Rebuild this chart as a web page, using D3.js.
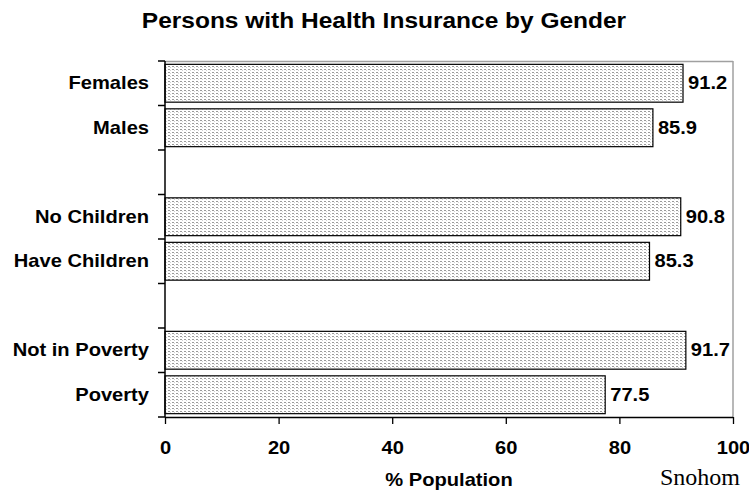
<!DOCTYPE html>
<html>
<head>
<meta charset="utf-8">
<script src="https://cdn.jsdelivr.net/npm/d3@7"></script>
<style>
  html, body { margin: 0; padding: 0; background: #fff; overflow: hidden; }
  svg { display: block; }
  text { font-family: "Liberation Sans", Arial, sans-serif; font-weight: bold; fill: #000; }
</style>
</head>
<body>
<script>
const title = "Persons with Health Insurance by Gender";
const xAxisTitle = "% Population";
const footnote = "Snohom";
const categories = ["Females", "Males", "No Children", "Have Children", "Not in Poverty", "Poverty"];
const values = [91.2, 85.9, 90.8, 85.3, 91.7, 77.5];
const xTicks = [0, 20, 40, 60, 80, 100];

const W = 749, H = 491;
const plot = { left: 165, right: 733, top: 61, bottom: 417 };
const SX = 1.15; // horizontal stretch of text seen in the reference

const svg = d3.select("body").append("svg").attr("width", W).attr("height", H);

// pattern fill
const defs = svg.append("defs");
const pat = defs.append("pattern").attr("id", "dots")
  .attr("patternUnits", "userSpaceOnUse").attr("width", 4).attr("height", 3);
pat.append("rect").attr("width", 4).attr("height", 3).attr("fill", "#fff");
pat.append("rect").attr("x", 0).attr("y", 0).attr("width", 2).attr("height", 1).attr("fill", "#9a9a9a");
pat.append("rect").attr("x", 2).attr("y", 1).attr("width", 1).attr("height", 1).attr("fill", "#d0d0d0");

// band domain with gap slots between pairs
const slots = [];
categories.forEach((c, i) => {
  slots.push(c);
  if (i % 2 === 1 && i < categories.length - 1) slots.push("__gap" + i);
});

const x = d3.scaleLinear().domain([0, 100]).range([plot.left, plot.right]);
const y = d3.scaleBand().domain(slots).range([plot.top, plot.bottom]).paddingInner(0.15).paddingOuter(0.075);
const step = y.step();

// plot border (top & right, gray)
svg.append("line").attr("x1", plot.left).attr("x2", plot.right).attr("y1", plot.top + 0.5).attr("y2", plot.top + 0.5)
  .attr("stroke", "#a0a0a0").attr("stroke-width", 1.5);
svg.append("line").attr("x1", plot.right).attr("x2", plot.right).attr("y1", plot.top).attr("y2", plot.bottom)
  .attr("stroke", "#a0a0a0").attr("stroke-width", 1.5);

// bars
const data = categories.map((c, i) => ({ c, v: values[i] }));
svg.append("g").selectAll("rect").data(data).join("rect")
  .attr("x", x(0))
  .attr("y", d => y(d.c))
  .attr("width", d => x(d.v) - x(0))
  .attr("height", y.bandwidth())
  .attr("fill", "url(#dots)")
  .attr("stroke", "#000").attr("stroke-width", 1.2);

// value labels
svg.append("g").selectAll("text").data(data).join("text")
  .attr("transform", d => `translate(${x(d.v) + 5},${y(d.c) + y.bandwidth() / 2 + 6}) scale(${SX},1)`)
  .attr("font-size", 17.5)
  .text(d => d.v.toFixed(1));

// category labels
svg.append("g").selectAll("text").data(data).join("text")
  .attr("transform", d => `translate(149,${y(d.c) + y.bandwidth() / 2 + 6}) scale(${SX},1)`)
  .attr("text-anchor", "end")
  .attr("font-size", 17.5)
  .text(d => d.c);

// y axis: line and ticks at slot boundaries
const yAxis = svg.append("g");
yAxis.append("line").attr("x1", plot.left).attr("x2", plot.left).attr("y1", plot.top).attr("y2", plot.bottom)
  .attr("stroke", "#000").attr("stroke-width", 1.5);
const boundaries = d3.range(slots.length + 1).map(i => plot.top + i * step);
yAxis.selectAll("line.t").data(boundaries).join("line").attr("class", "t")
  .attr("x1", plot.left - 7).attr("x2", plot.left).attr("y1", d => d).attr("y2", d => d)
  .attr("stroke", "#000").attr("stroke-width", 1.5);

// x axis
const xAxis = svg.append("g").attr("transform", `translate(0,${plot.bottom})`)
  .call(d3.axisBottom(x).tickValues(xTicks).tickSize(7).tickFormat(d3.format("d")));
xAxis.select(".domain").attr("stroke", "#000").attr("stroke-width", 1.5)
  .attr("d", `M${plot.left},0.5H${plot.right}`);
xAxis.selectAll(".tick line").attr("stroke", "#000").attr("stroke-width", 1.3);
xAxis.selectAll(".tick text")
  .attr("y", null).attr("dy", null)
  .attr("transform", `translate(0,37) scale(${SX},1)`)
  .attr("font-size", 17.5)
  .attr("font-family", "Liberation Sans, Arial, sans-serif")
  .attr("font-weight", "bold")
  .attr("fill", "#000");

// titles
svg.append("text")
  .attr("transform", `translate(384,28) scale(${SX},1)`)
  .attr("text-anchor", "middle").attr("font-size", 21.3)
  .text(title);
svg.append("text")
  .attr("transform", `translate(449,486) scale(${SX},1)`)
  .attr("text-anchor", "middle").attr("font-size", 17.5)
  .text(xAxisTitle);
svg.append("text")
  .attr("x", 660).attr("y", 485)
  .attr("font-size", 24)
  .style("font-family", "Liberation Serif, 'Times New Roman', serif")
  .style("font-weight", "normal")
  .text(footnote);
</script>
</body>
</html>
